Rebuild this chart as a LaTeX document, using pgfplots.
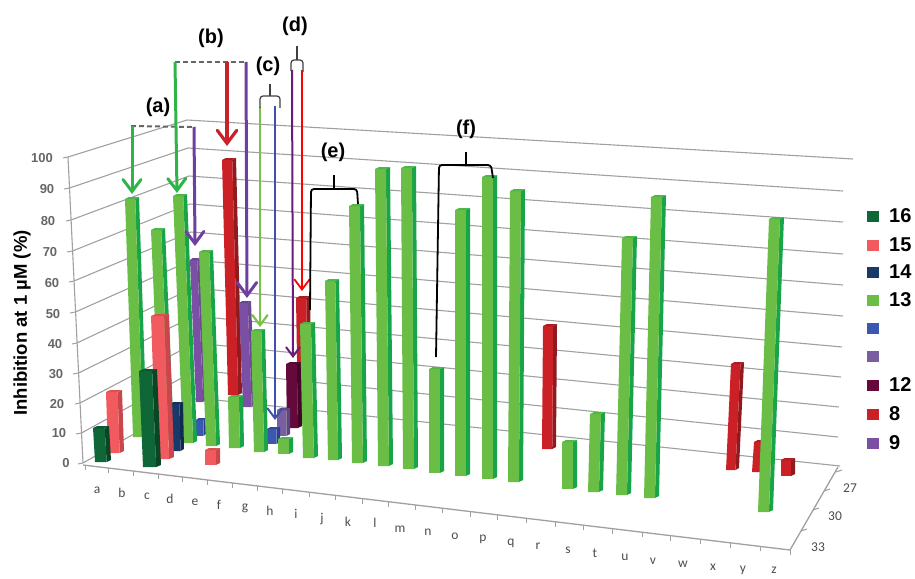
\documentclass[border=0pt]{standalone}
\usepackage{fontspec}
\setmainfont{Liberation Sans}
\newfontfamily\calfont{Carlito}
\usepackage{pgfplots}
\pgfplotsset{compat=1.18}
\usetikzlibrary{arrows.meta}

\definecolor{gridc}{HTML}{A0A0A0}
\definecolor{tickc}{HTML}{666666}
% face, side and top colour of each series
\definecolor{gF}{HTML}{6ABD45}\definecolor{gS}{HTML}{18A54A}\definecolor{gT}{HTML}{4DB848}
\definecolor{rF}{HTML}{CC2027}\definecolor{rS}{HTML}{8E1B20}\definecolor{rT}{HTML}{A81E24}
\definecolor{sF}{HTML}{F15A5E}\definecolor{sS}{HTML}{C8474C}\definecolor{sT}{HTML}{D9504F}
\definecolor{dF}{HTML}{0F6637}\definecolor{dS}{HTML}{0A4526}\definecolor{dT}{HTML}{0C5530}
\definecolor{nF}{HTML}{173A6B}\definecolor{nS}{HTML}{112A4F}\definecolor{nT}{HTML}{13305A}
\definecolor{bF}{HTML}{3A58B0}\definecolor{bS}{HTML}{2A3F90}\definecolor{bT}{HTML}{304A9E}
\definecolor{pF}{HTML}{7B4FA3}\definecolor{pS}{HTML}{6A4B92}\definecolor{pT}{HTML}{6A4592}
\definecolor{vF}{HTML}{7A5FA0}\definecolor{vS}{HTML}{5A4680}\definecolor{vT}{HTML}{604A88}
\definecolor{mF}{HTML}{65093A}\definecolor{mS}{HTML}{43062A}\definecolor{mT}{HTML}{520830}
\definecolor{arG}{HTML}{2FB44A}
\definecolor{arL}{HTML}{7AC143}
\definecolor{arP}{HTML}{6F3FA0}
\definecolor{arR}{HTML}{C9202A}
\definecolor{arB}{HTML}{3F4FB0}
\definecolor{arM}{HTML}{6A1B7A}
\definecolor{dashc}{HTML}{666666}

% series, x top left, y top, x bottom left, y bottom, total width
\newcommand{\barb}[6]{%
  \pgfmathsetmacro{\fw}{0.73*#6}%
  \pgfmathsetmacro{\dw}{0.27*#6}%
  \pgfmathsetmacro{\ya}{#3+2}%
  \pgfmathsetmacro{\xb}{#2+\fw}%
  \pgfmathsetmacro{\xc}{#2+#6}%
  \pgfmathsetmacro{\xd}{#4+\fw}%
  \pgfmathsetmacro{\xe}{#4+#6}%
  \pgfmathsetmacro{\yb}{#5-2}%
  \pgfmathsetmacro{\xf}{#2+\dw}%
  \addplot[fill=#1S,draw=none] coordinates {(\xb,\ya)(\xc,#3)(\xe,\yb)(\xd,#5)} --cycle;
  \addplot[fill=#1F,draw=none] coordinates {(#2,\ya)(\xb,\ya)(\xd,#5)(#4,#5)} --cycle;
  \addplot[fill=#1T,draw=none] coordinates {(#2,\ya)(\xb,\ya)(\xc,#3)(\xf,#3)} --cycle;
}
\newcommand{\lab}[3]{\node[text=tickc,font=\fontsize{13}{13}\selectfont\bfseries] at (axis cs:#1,#2) {#3};}
\newcommand{\letr}[3]{\node[text=black!70,font=\calfont\fontsize{13.5}{14}\selectfont] at (axis cs:#1,#2) {#3};}
\newcommand{\legitem}[3]{%
  \addplot[only marks,mark=square*,mark size=5.3pt,mark options={fill=#2,draw=#2}] coordinates {(872.5,#1)};
  \node[anchor=west,inner sep=0pt,font=\fontsize{20}{20}\selectfont\bfseries] at (axis cs:889,#1) {#3};
}
\tikzset{
  open/.style={-{Straight Barb[length=#1pt,width=#1*1.5pt,line cap=round]}},
  brace/.style={black,line width=1.8pt,rounded corners=3pt},
  ann/.style={font=\fontsize{20}{20}\selectfont\bfseries},
}

\begin{document}
\begin{tikzpicture}
\path[use as bounding box] (0,0) rectangle (915pt,578pt);
\begin{axis}[
  at={(0,0)},anchor=south west,
  width=915pt,height=578pt,scale only axis,
  xmin=0,xmax=915,ymin=0,ymax=578,y dir=reverse,
  axis lines=none,clip=false,unbounded coords=jump,
]
% walls
\addplot[gridc,line width=1.1pt] coordinates {(68,157)(187,120)(853,159)};
\addplot[gridc,line width=1.1pt] coordinates {(69.5,188)(188,148)(843,191)};
\addplot[gridc,line width=1.1pt] coordinates {(71,220)(189,176)(843,222)};
\addplot[gridc,line width=1.1pt] coordinates {(72.5,251)(190,204)(843,254)};
\addplot[gridc,line width=1.1pt] coordinates {(74,281)(191,232)(843,285)};
\addplot[gridc,line width=1.1pt] coordinates {(75.5,312)(192,260)(843,316)};
\addplot[gridc,line width=1.1pt] coordinates {(77,343)(193,288)(842,347)};
\addplot[gridc,line width=1.1pt] coordinates {(78.5,373)(194,316)(841,377)};
\addplot[gridc,line width=1.1pt] coordinates {(80,403)(195,343)(839,407)};
\addplot[gridc,line width=1.1pt] coordinates {(81.5,433)(196,370)(838,437)};
\addplot[gridc,line width=1.1pt] coordinates {(83,463)(197,398)(840,466)};
% value axis and floor
\addplot[gridc,line width=1.1pt] coordinates {(68,157)(83,463)};
\addplot[gridc,line width=1.3pt] coordinates {(83,465)(790,550)(838,467)};
\addplot[gridc,line width=1pt] coordinates {
  (63,158)(68,157)(64,nan)(64,189)(69.5,188)(66,nan)(66,221)(71,220)(67,nan)(67,252)(72.5,251)
  (69,nan)(69,282)(74,281)(70,nan)(70,313)(75.5,312)(72,nan)(72,344)(77,343)(73,nan)(73,374)(78.5,373)
  (75,nan)(75,404)(80,403)(76,nan)(76,434)(81.5,433)(78,nan)(78,464)(83,463)
};
% x ticks
\addplot[gridc,line width=1pt] coordinates {
  (85,465)(85,470)(108,nan)(108,468)(108,473)(133,nan)(133,471)(133,476)(158,nan)(158,474)(158,479)
  (182,nan)(182,477)(182,482)(207,nan)(207,480)(207,485)(232,nan)(232,483)(232,488)
  (257,nan)(257,486)(257,491)(282,nan)(282,489)(282,494)(309,nan)(309,492)(309,497)
  (335,nan)(335,495)(335,500)(362,nan)(362,498.5)(362,503.5)(388,nan)(388,502)(388,507)
  (415,nan)(415,505)(415,510)(442,nan)(442,508)(442,513)(470,nan)(470,511.5)(470,516.5)
  (497,nan)(497,515)(497,520)(526,nan)(526,518)(526,523)(555,nan)(555,522)(555,527)
  (583,nan)(583,525)(583,530)(612,nan)(612,528.5)(612,533.5)(642,nan)(642,532)(642,537)
  (670,nan)(670,535.5)(670,540.5)(700,nan)(700,539)(700,544)(730,nan)(730,542.5)(730,547.5)
  (760,nan)(760,546)(760,551)(790,nan)(790,550)(790,555)
};
\addplot[gridc,line width=1pt] coordinates {
  (801,531)(807,529)(813,nan)(813,510)(819,508)(824,nan)(824,491)(830,489)(836,nan)(836,472)(842,470)
};
% bars, back to front
\barb{r}{222}{158}{228}{395}{14}
\barb{p}{190}{258}{196}{402}{10}
\barb{p}{239}{301}{243}{407}{12}
\barb{r}{296}{296}{298}{420}{14}
\barb{m}{286}{362}{287}{428}{15}
\barb{v}{277}{408}{277}{436}{13}
\barb{b}{196}{418}{196}{436}{10}
\barb{g}{125}{197}{133}{437}{14}
\barb{g}{151}{228}{160}{440}{14}
\barb{g}{173}{194}{183}{443}{14}
\barb{b}{267}{427}{267}{444}{13}
\barb{g}{199}{250}{206}{446}{14}
\barb{g}{228}{395}{229}{448}{15}
\barb{r}{543}{324}{542}{449}{14}
\barb{n}{170}{402}{171}{451}{13}
\barb{g}{251}{329}{254}{452}{14}
\barb{s}{106}{390}{108}{453}{16}
\barb{g}{278}{437}{278}{454}{15}
\barb{g}{300}{322}{303}{458}{15}
\barb{s}{151}{314}{156}{459}{18}
\barb{g}{325}{279}{328}{460}{14}
\barb{d}{93}{426}{95}{462}{16}
\barb{g}{349}{204}{352}{463}{15}
\barb{s}{205}{448}{205}{465}{15}
\barb{g}{375}{167}{378}{466}{15}
\barb{d}{139}{369}{143}{467}{18}
\barb{g}{401}{166}{403}{469}{15}
\barb{r}{731}{362}{726}{470}{13}
\barb{r}{754}{440}{752}{472}{14}
\barb{g}{429}{367}{429}{473}{15}
\barb{r}{781}{458}{781}{476}{14}
\barb{g}{455}{208}{455}{476}{15}
\barb{g}{482}{175}{482}{479}{15}
\barb{g}{510}{189}{508}{482}{15}
\barb{g}{562}{440}{562}{489}{15}
\barb{g}{590}{412}{588}{492}{15}
\barb{g}{622}{236}{616}{495}{15}
\barb{g}{651}{195}{644}{498}{15}
\barb{g}{769}{217}{758}{512}{15}
% annotation (a)
\addplot[dashc,line width=2pt,dash pattern=on 5pt off 3pt] coordinates {(131,126)(195,127)};
\addplot[arG,line width=3pt,open=12] coordinates {(132,126)(132,194)};
\addplot[arP,line width=3pt,open=12] coordinates {(194,127)(195,246)};
% annotation (b)
\addplot[dashc,line width=2pt,dash pattern=on 5pt off 3pt] coordinates {(175,62)(246,62)};
\addplot[arG,line width=3pt,open=12] coordinates {(175,62)(177,193)};
\addplot[arR,line width=3.2pt,open=13] coordinates {(227,62)(227,146)};
\addplot[arP,line width=3pt,open=13] coordinates {(246,62)(247,298)};
% annotation (c)
\addplot[arL,line width=2.2pt,open=10] coordinates {(260,107)(260,327)};
\addplot[arB,line width=2pt,open=10] coordinates {(275,106)(275,420)};
\addplot[black!75,line width=1.2pt,rounded corners=3pt] coordinates {(260,108)(260,96)(280,96)(280,108)};
\addplot[black!75,line width=1.2pt] coordinates {(270,84)(270,96)};
% annotation (d)
\addplot[arM,line width=2pt,open=9] coordinates {(292,70)(293,358)};
\addplot[red,line width=1.8pt,open=10] coordinates {(302,70)(302,291)};
\addplot[black!75,line width=1.2pt,rounded corners=3pt] coordinates {(291,71)(291,60)(303,60)(303,72)};
\addplot[black!75,line width=1.2pt] coordinates {(297,46)(297,60)};
% annotation (e)
\addplot[brace] coordinates {(310,310)(311,189)(357,189)(358,204)};
\addplot[black,line width=1.8pt] coordinates {(334,175)(334,189)};
% annotation (f)
\addplot[brace] coordinates {(436,357)(439,165)(491,165)(493,178)};
\addplot[black,line width=1.8pt] coordinates {(466,152)(466,165)};
% texts
\node[ann] at (axis cs:158,107) {(a)};
\node[ann] at (axis cs:211,38) {(b)};
\node[ann] at (axis cs:268,66) {(c)};
\node[ann] at (axis cs:295,26) {(d)};
\node[ann] at (axis cs:333,152) {(e)};
\node[ann] at (axis cs:466,129) {(f)};
\node[rotate=90,font=\fontsize{18.5}{18.5}\selectfont\bfseries] at (axis cs:22,323) {Inhibition at 1 µM (\%)};
\lab{42}{158}{100}\lab{47}{189}{90}\lab{48}{221}{80}\lab{50}{252}{70}\lab{52}{283}{60}
\lab{53}{314}{50}\lab{55}{344}{40}\lab{56}{374}{30}\lab{57}{404}{20}\lab{59}{433}{10}\lab{66}{463}{0}
\letr{97}{490}{a}\letr{122}{493}{b}\letr{147}{496}{c}\letr{170}{499}{d}\letr{195}{502}{e}\letr{219}{505}{f}
\letr{245}{508}{g}\letr{270}{511}{h}\letr{296}{514}{i}\letr{322}{519}{j}\letr{348}{522}{k}\letr{375}{523}{l}
\letr{400}{529}{m}\letr{428}{532}{n}\letr{455}{536}{o}\letr{483}{539}{p}\letr{511}{543}{q}\letr{538}{546}{r}
\letr{568}{550}{s}\letr{595}{553}{t}\letr{625}{557}{u}\letr{653}{561}{v}\letr{683}{564}{w}\letr{713}{567}{x}
\letr{743}{570}{y}\letr{774}{570}{z}
\letr{850}{488}{27}\letr{835}{516}{30}\letr{818}{547}{33}
% legend
\legitem{216}{dF}{16}
\legitem{245}{sF}{15}
\legitem{272}{nF}{14}
\legitem{300}{gF}{13}
\legitem{328}{bF}{}
\legitem{356}{vF}{}
\legitem{385}{mF}{12}
\legitem{414}{rF}{8}
\legitem{443}{pF}{9}
\end{axis}
\end{tikzpicture}
\end{document}
